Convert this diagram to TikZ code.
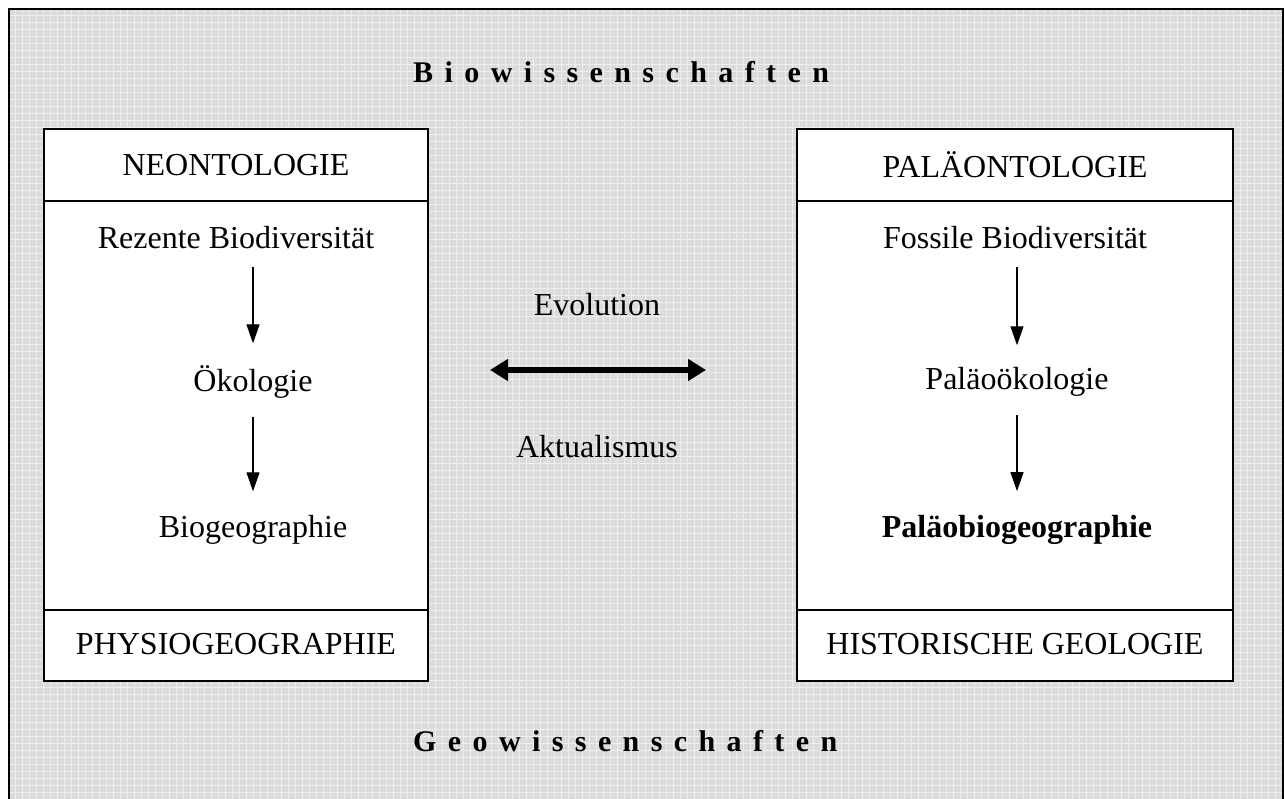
\documentclass[tikz,border=0pt]{standalone}
\usepackage{fontspec}
\setmainfont{Liberation Serif}
\newfontfamily\headfont[WordSpace=1.52]{Liberation Serif}
\usetikzlibrary{arrows.meta}
\definecolor{bgfill}{gray}{0.86}
\begin{document}
\begin{tikzpicture}[x=1pt,y=-1pt,
  txt/.style={inner sep=0pt,font=\fontsize{32}{36}\selectfont},
  head/.style={inner sep=0pt,anchor=west,font=\headfont\fontsize{30}{36}\selectfont\bfseries},
  panel/.style={draw=black,line width=2pt,fill=white,minimum width=#1,minimum height=552pt,inner sep=0pt},
  downarrow/.style={-{Triangle[width=13pt,length=19pt]},line width=1.2pt},
  bigarrow/.style={{Triangle[width=21pt,length=18pt]}-{Triangle[width=21pt,length=18pt]},line width=6.5pt}]
\useasboundingbox (0,0) rectangle (1285,798);
\fill[bgfill] (8,8) rectangle (1284,800);
\draw[white,line width=1pt,opacity=0.55,step=7pt,shift={(8,8)}] (0,0) grid (1276,792);
\draw[black,line width=2pt] (9,800) -- (9,9) -- (1283,9) -- (1283,800);
% panels
\node[panel=384pt] (L) at (236,405) {};
\node[panel=436pt] (R) at (1015,405) {};
\draw[line width=1.5pt] (L.west |- 0,201) coordinate (l1) -- (L.east |- 0,201) coordinate (l2);
\draw[line width=1.5pt] (L.west |- 0,610) coordinate (l3) -- (L.east |- 0,610) coordinate (l4);
\draw[line width=1.5pt] (R.west |- 0,201) coordinate (r1) -- (R.east |- 0,201) coordinate (r2);
\draw[line width=1.5pt] (R.west |- 0,610) coordinate (r3) -- (R.east |- 0,610) coordinate (r4);
% headings
\node[head] (bio) at (413,72) {B i o w i s s e n s c h a f t e n};
\node[head] (geo) at (413,741) {G e o w i s s e n s c h a f t e n};
% left
\node[txt] (neo) at (236,165) {NEONTOLOGIE};
\node[txt] (rez) at (236,238) {Rezente Biodiversität};
\node[txt] (oek) at (253,382) {Ökologie};
\node[txt] (bgg) at (253,530) {Biogeographie};
\node[txt] (phy) at (236,644) {PHYSIOGEOGRAPHIE};
% right
\node[txt] (pal) at (1015,165) {PALÄONTOLOGIE};
\node[txt] (fos) at (1015,238) {Fossile Biodiversität};
\node[txt] (poek) at (1017,382) {Paläoökologie};
\node[txt,font=\fontsize{32}{36}\selectfont\bfseries] (pbg) at (1017,530) {Paläobiogeographie};
\node[txt] (hist) at (1015,644) {HISTORISCHE GEOLOGIE};
% centre
\node[txt] (evo) at (597,305) {Evolution};
\node[txt] (akt) at (597,447) {Aktualismus};
\coordinate (aL) at (490,370);
\coordinate (aR) at (706,370);
\draw[bigarrow] (aL) -- (aR);
% arrows
\draw[downarrow] ([yshift=-18pt]rez.south -| oek) -- ([yshift=22pt]oek.north);
\draw[downarrow] ([yshift=-18pt]oek.south) -- ([yshift=24pt]bgg.north);
\draw[downarrow] ([yshift=-18pt]fos.south -| poek) -- ([yshift=22pt]poek.north);
\draw[downarrow] ([yshift=-18pt]poek.south) -- ([yshift=24pt]pbg.north);
\end{tikzpicture}
\end{document}
